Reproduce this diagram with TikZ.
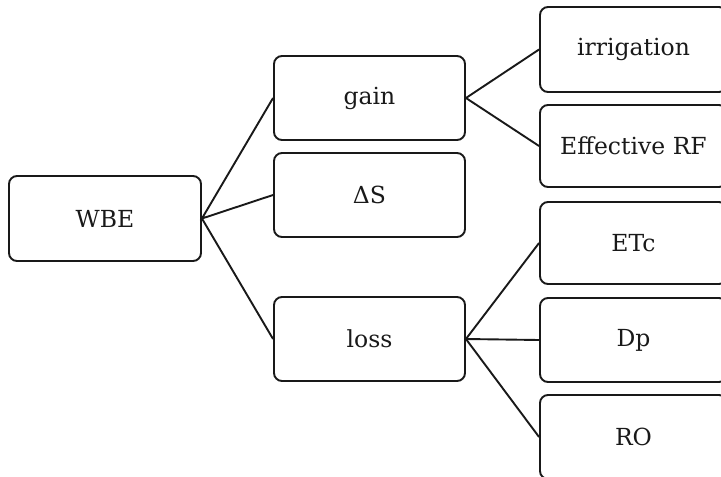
\documentclass[tikz,border=0pt]{standalone}
\usepackage{fontspec}
\setmainfont{DejaVu Serif}
\begin{document}
\begin{tikzpicture}[x=1pt,y=-1pt,
  box/.style={draw=black!90, line width=1.9pt, rounded corners=8pt, inner sep=0pt,
    minimum height=84pt, font=\fontsize{23.5}{28}\selectfont, text=black!90},
  midbox/.style={box, minimum width=191pt},
  rbox/.style={box, minimum width=187pt},
  link/.style={draw=black!90, line width=1.9pt}]
\useasboundingbox (0,0) rectangle (721,477);
\node[box, minimum width=192pt, minimum height=85pt] (wbe) at (105,218.5) {WBE};
\node[midbox] (gain) at (369.5,98) {gain};
\node[midbox] (ds) at (369.5,195) {ΔS};
\node[midbox] (loss) at (369.5,339) {loss};
\node[rbox, minimum height=85pt] (irr) at (633.5,49.5) {irrigation};
\node[rbox, minimum height=82pt] (erf) at (633.5,146) {Effective RF};
\node[rbox, minimum height=82pt] (etc) at (633.5,243) {ETc};
\node[rbox] (dp) at (633.5,340) {Dp};
\node[rbox] (ro) at (633.5,437) {RO};
\draw[link] (gain.west) -- (wbe.east) -- (ds.west);
\draw[link] (wbe.east) -- (loss.west);
\draw[link] (irr.west) -- (gain.east) -- (erf.west);
\draw[link] (etc.west) -- (loss.east) -- (ro.west);
\draw[link] (loss.east) -- (dp.west);
\end{tikzpicture}
\end{document}
